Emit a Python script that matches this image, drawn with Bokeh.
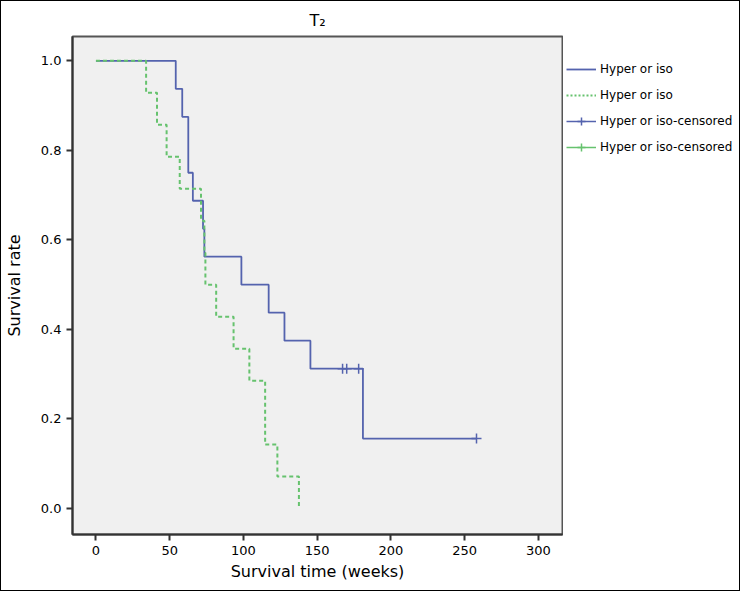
from bokeh.plotting import figure
from bokeh.layouts import row
from bokeh.models import Range1d, Legend, LegendItem, FixedTicker, NumeralTickFormatter
from bokeh.embed import file_html
from bokeh.resources import INLINE

# Kaplan-Meier data (weeks, survival)
blue_t = [0, 54.1, 58.5, 62.6, 65.7, 72.6, 73.5, 98.6, 117.1, 127.8, 145.4, 181.0, 258.0]
blue_s = [1.0, 0.9375, 0.875, 0.75, 0.6875, 0.625, 0.5625, 0.5, 0.4375, 0.375, 0.3125, 0.15625, 0.15625]
blue_cens_t = [167.2, 170.0, 178.1, 258.0]
blue_cens_s = [0.3125, 0.3125, 0.3125, 0.15625]

green_t = [0, 34.0, 41.4, 47.9, 56.8, 71.2, 73.5, 74.2, 81.5, 93.3, 104.0, 114.7, 123.0, 137.6]
green_s = [1.0, 0.9286, 0.8571, 0.7857, 0.7143, 0.6429, 0.5714, 0.5, 0.4286, 0.3571, 0.2857, 0.1429, 0.0714, 0.0]
green_cens_t = []
green_cens_s = []

x_ticks = [0, 50, 100, 150, 200, 250, 300]
y_ticks = [0.0, 0.2, 0.4, 0.6, 0.8, 1.0]
labels = ["Hyper or iso", "Hyper or iso", "Hyper or iso-censored", "Hyper or iso-censored"]

BLUE = "#5463ae"
GREEN = "#66c26e"
FONT = "DejaVu Sans"

p = figure(width=562, height=589, output_backend="svg", toolbar_location=None,
           x_range=Range1d(-15.9, 316.3), y_range=Range1d(-0.058, 1.0544),
           min_border_left=67, min_border_right=1, min_border_top=35, min_border_bottom=56,
           title="T\u2082")

p.background_fill_color = "#f0f0f0"
p.border_fill_color = "white"
p.outline_line_color = "#555555"
p.outline_line_width = 2
p.xgrid.visible = False
p.ygrid.visible = False

p.title.align = "center"
p.title.text_font = FONT
p.title.text_font_size = "16px"
p.title.text_font_style = "normal"
p.title.text_color = "black"
p.title.standoff = 14

for ax in (p.xaxis[0], p.yaxis[0]):
    ax.axis_line_color = "#333333"
    ax.axis_line_width = 2
    ax.major_tick_line_color = "#333333"
    ax.major_tick_line_width = 2
    ax.major_tick_out = 6
    ax.major_tick_in = 0
    ax.minor_tick_line_color = None
    ax.major_label_text_font = FONT
    ax.major_label_text_font_size = "13px"
    ax.major_label_text_color = "black"
    ax.axis_label_text_font = FONT
    ax.axis_label_text_font_size = "16px"
    ax.axis_label_text_font_style = "normal"
    ax.axis_label_text_color = "black"

p.xaxis.ticker = FixedTicker(ticks=x_ticks)
p.yaxis.ticker = FixedTicker(ticks=y_ticks)
p.yaxis.formatter = NumeralTickFormatter(format="0.0")
p.xaxis.axis_label = "Survival time (weeks)"
p.yaxis.axis_label = "Survival rate"
p.xaxis.axis_label_standoff = 4
p.yaxis.axis_label_standoff = 14

p.step(blue_t, blue_s, mode="after", line_color=BLUE, line_width=1.8)
p.step(green_t, green_s, mode="after", line_color=GREEN, line_width=2, line_dash="4 3")
p.scatter(blue_cens_t, blue_cens_s, marker="cross", size=10, line_color=BLUE, line_width=1.5)
p.scatter(green_cens_t, green_cens_s, marker="cross", size=10, line_color=GREEN, line_width=1.5)

# legend panel (separate, glyph-only figure with hidden renderers)
q = figure(width=176, height=589, output_backend="svg", toolbar_location=None,
           x_range=Range1d(-15.9, 316.3), y_range=Range1d(-0.058, 1.0544),
           x_axis_location=None, y_axis_location=None,
           min_border_left=0, min_border_right=0, min_border_top=0, min_border_bottom=0)
q.outline_line_color = None
q.background_fill_color = "white"
q.border_fill_color = "white"
q.xgrid.visible = False
q.ygrid.visible = False

l_blue = q.step(blue_t, blue_s, mode="after", line_color=BLUE, line_width=1.8, visible=False)
l_green = q.step(green_t, green_s, mode="after", line_color=GREEN, line_width=2, line_dash="2 2", visible=False)
l_bcl = q.line(blue_cens_t, blue_cens_s, line_color=BLUE, line_width=1.5, visible=False)
l_bc = q.scatter(blue_cens_t, blue_cens_s, marker="cross", size=14, line_color=BLUE, line_width=1.5, visible=False)
l_gcl = q.line(blue_cens_t, blue_cens_s, line_color=GREEN, line_width=1.5, visible=False)
l_gc = q.scatter(blue_cens_t, blue_cens_s, marker="cross", size=14, line_color=GREEN, line_width=1.5, visible=False)

legend = Legend(items=[
    LegendItem(label=labels[0], renderers=[l_blue]),
    LegendItem(label=labels[1], renderers=[l_green]),
    LegendItem(label=labels[2], renderers=[l_bcl, l_bc]),
    LegendItem(label=labels[3], renderers=[l_gcl, l_gc]),
], location=(3, 377))
legend.label_text_font = FONT
legend.label_text_font_size = "12px"
legend.label_text_color = "black"
legend.glyph_width = 30
legend.glyph_height = 20
legend.spacing = 6
legend.label_standoff = 4
legend.border_line_color = None
legend.background_fill_alpha = 0
legend.inactive_fill_alpha = 0
legend.margin = 0
legend.padding = 0
q.add_layout(legend)

layout = row(p, q, spacing=0)
layout.styles = {"border": "1px solid black"}

open("out.html", "w").write(file_html(layout, INLINE))
